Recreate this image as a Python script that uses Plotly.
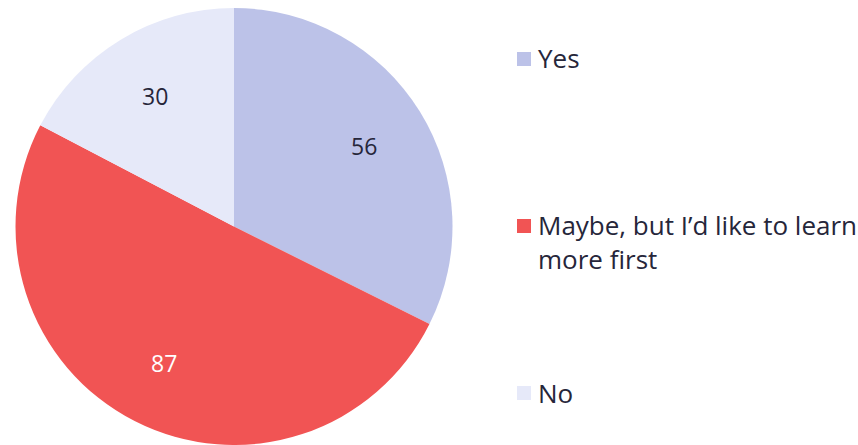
import math
import plotly.graph_objects as go

labels = ["Yes", "Maybe, but I’d like to learn<br>more first", "No"]
values = [56, 87, 30]
colors = ["#BCC2E8", "#F15454", "#E6E9F9"]
text_colors = ["#26263A", "#FFFFFF", "#26263A"]

W, H = 858, 445
T = 8
PH = H - T
FONT = "Open Sans"


def py(y):
    # pixel y (from top of page) -> paper y
    return 1 - (y - T) / PH


fig = go.Figure()
fig.add_trace(go.Pie(
    labels=labels, values=values, sort=False, direction="clockwise", rotation=0,
    marker=dict(colors=colors, line=dict(width=0)),
    textinfo="none",
    domain=dict(x=[15 / W, 453 / W], y=[0, 1]),
    showlegend=False, hoverinfo="label+value",
))

# value labels placed along each slice's bisector (~0.7 of radius)
cx, cy, r = 234, T + PH / 2, PH / 2
total = sum(values)
cum = 0
for v, tc in zip(values, text_colors):
    mid = (cum + v / 2) / total * 2 * math.pi
    cum += v
    lx = cx + 0.7 * r * math.sin(mid)
    ly = cy - 0.7 * r * math.cos(mid)
    fig.add_annotation(x=lx / W, y=py(ly), xref="paper", yref="paper", text=str(v),
                       showarrow=False, xanchor="center", yanchor="middle",
                       font=dict(family=FONT, size=23, color=tc))

# custom legend (spread vertically like the reference)
legend_y = [58, 242, 393]
box_y = [59, 226, 393]
for lab, col, ly, by in zip(labels, colors, legend_y, box_y):
    fig.add_shape(type="rect", xref="paper", yref="paper",
                  x0=517 / W, x1=531 / W, y0=py(by + 7), y1=py(by - 7),
                  fillcolor=col, line=dict(width=0))
    fig.add_annotation(x=536 / W, y=py(ly), xref="paper", yref="paper",
                       text=lab, showarrow=False, xanchor="left", yanchor="middle",
                       align="left", font=dict(family=FONT, size=26, color="#26263A"))

fig.update_layout(width=W, height=H, margin=dict(l=0, r=0, t=T, b=0),
                  paper_bgcolor="white", plot_bgcolor="white")
fig.write_html("out.html")
